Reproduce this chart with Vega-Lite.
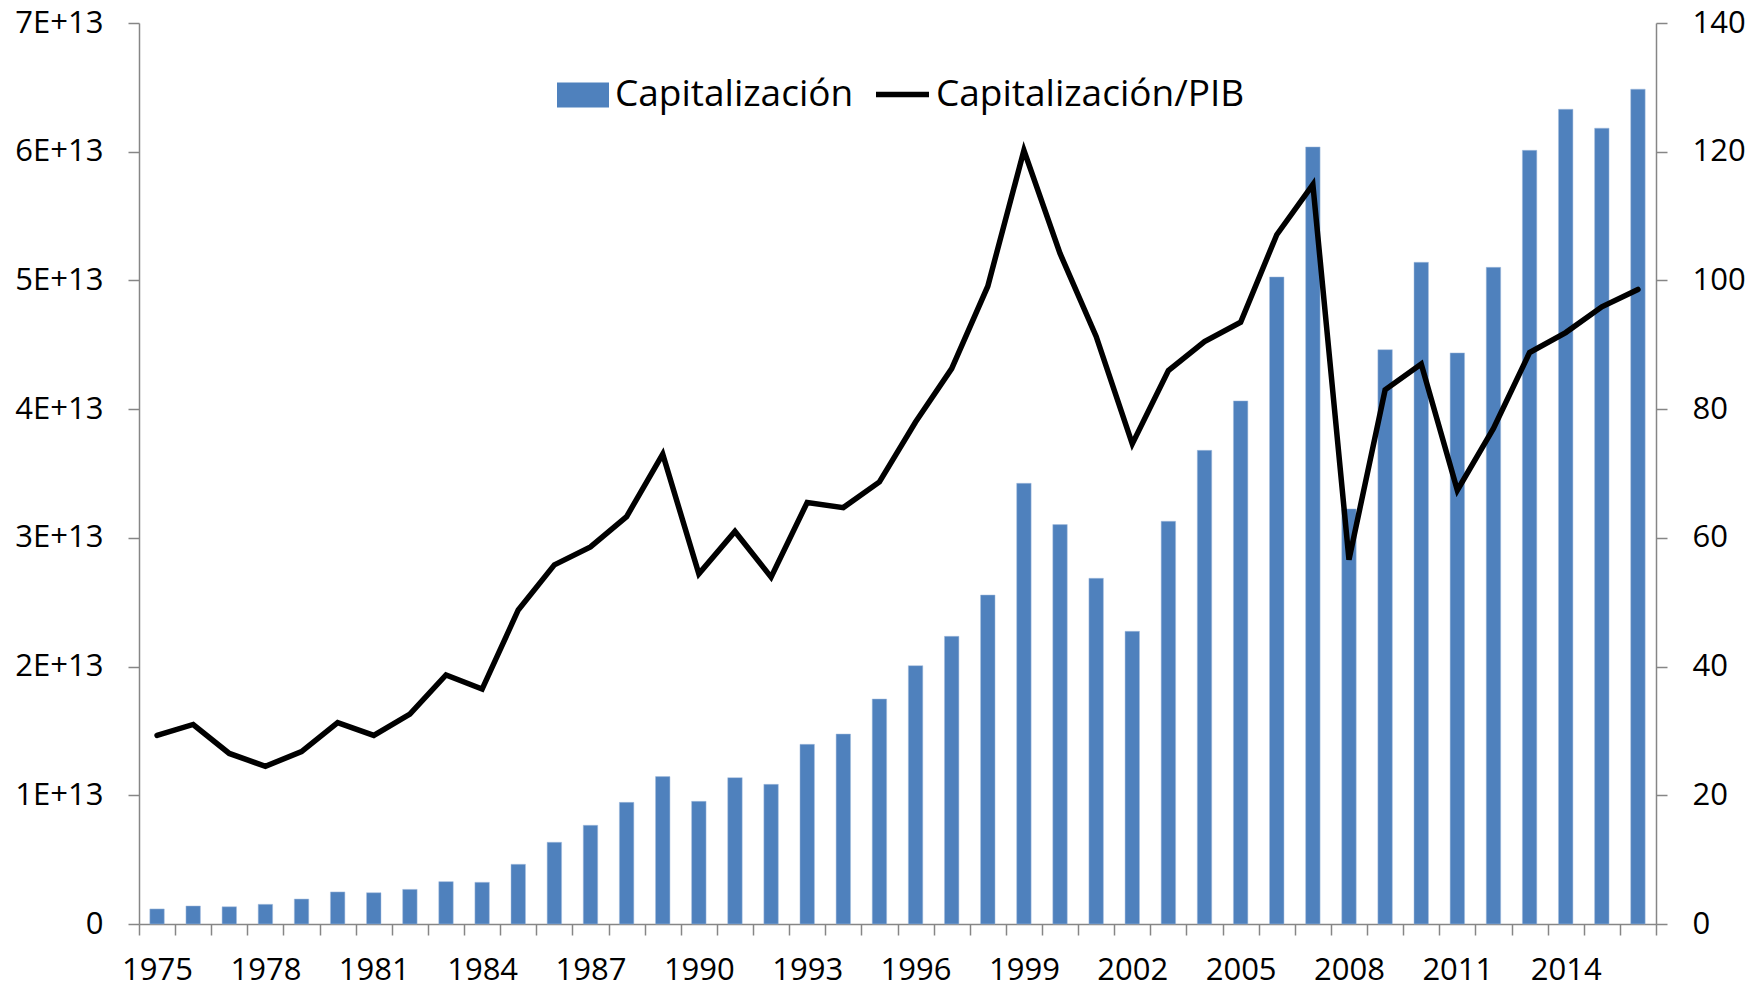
{
  "$schema": "https://vega.github.io/schema/vega-lite/v6.json",
  "width": 1517,
  "height": 901,
  "autosize": "none",
  "padding": {"left": 139, "top": 23, "right": 107, "bottom": 63},
  "background": "white",
  "config": {
    "view": {"stroke": null},
    "font": "Open Sans",
    "axis": {
      "grid": false,
      "domainColor": "#868686",
      "tickColor": "#868686",
      "domainWidth": 1.5,
      "tickWidth": 1.5,
      "tickSize": 11,
      "labelFont": "Open Sans",
      "labelFontSize": 31,
      "labelColor": "black",
      "titleColor": "black"
    }
  },
  "data": {
    "values": [
      {"year": 1975, "cap": 1.17e12, "ratio": 29.3},
      {"year": 1976, "cap": 1.40e12, "ratio": 31.0},
      {"year": 1977, "cap": 1.34e12, "ratio": 26.5},
      {"year": 1978, "cap": 1.53e12, "ratio": 24.5},
      {"year": 1979, "cap": 1.94e12, "ratio": 26.8},
      {"year": 1980, "cap": 2.49e12, "ratio": 31.3},
      {"year": 1981, "cap": 2.43e12, "ratio": 29.3},
      {"year": 1982, "cap": 2.69e12, "ratio": 32.6},
      {"year": 1983, "cap": 3.29e12, "ratio": 38.7},
      {"year": 1984, "cap": 3.24e12, "ratio": 36.5},
      {"year": 1985, "cap": 4.64e12, "ratio": 48.8},
      {"year": 1986, "cap": 6.35e12, "ratio": 55.8},
      {"year": 1987, "cap": 7.67e12, "ratio": 58.6},
      {"year": 1988, "cap": 9.45e12, "ratio": 63.3},
      {"year": 1989, "cap": 1.145e13, "ratio": 73.0},
      {"year": 1990, "cap": 9.53e12, "ratio": 54.4},
      {"year": 1991, "cap": 1.137e13, "ratio": 61.0},
      {"year": 1992, "cap": 1.085e13, "ratio": 53.9},
      {"year": 1993, "cap": 1.396e13, "ratio": 65.5},
      {"year": 1994, "cap": 1.476e13, "ratio": 64.7},
      {"year": 1995, "cap": 1.748e13, "ratio": 68.7},
      {"year": 1996, "cap": 2.007e13, "ratio": 78.0},
      {"year": 1997, "cap": 2.235e13, "ratio": 86.3},
      {"year": 1998, "cap": 2.556e13, "ratio": 99.1},
      {"year": 1999, "cap": 3.424e13, "ratio": 120.2},
      {"year": 2000, "cap": 3.103e13, "ratio": 104.2},
      {"year": 2001, "cap": 2.686e13, "ratio": 91.3},
      {"year": 2002, "cap": 2.274e13, "ratio": 74.6},
      {"year": 2003, "cap": 3.129e13, "ratio": 86.0},
      {"year": 2004, "cap": 3.68e13, "ratio": 90.5},
      {"year": 2005, "cap": 4.064e13, "ratio": 93.5},
      {"year": 2006, "cap": 5.027e13, "ratio": 107.1},
      {"year": 2007, "cap": 6.037e13, "ratio": 114.9},
      {"year": 2008, "cap": 3.225e13, "ratio": 56.6},
      {"year": 2009, "cap": 4.462e13, "ratio": 83.0},
      {"year": 2010, "cap": 5.141e13, "ratio": 87.0},
      {"year": 2011, "cap": 4.437e13, "ratio": 67.4},
      {"year": 2012, "cap": 5.102e13, "ratio": 77.0},
      {"year": 2013, "cap": 6.011e13, "ratio": 88.8},
      {"year": 2014, "cap": 6.33e13, "ratio": 91.9},
      {"year": 2015, "cap": 6.183e13, "ratio": 95.9},
      {"year": 2016, "cap": 6.486e13, "ratio": 98.6}
    ]
  },
  "encoding": {
    "x": {
      "field": "year",
      "type": "ordinal",
      "scale": {"paddingInner": 0, "paddingOuter": 0},
      "axis": {
        "title": null,
        "labelAngle": 0,
        "tickBand": "extent",
        "labelPadding": 20,
        "labelExpr": "(datum.value - 1975) % 3 == 0 ? datum.label : ''"
      }
    }
  },
  "layer": [
    {
      "mark": {"type": "bar", "width": {"band": 0.4}, "stroke": "#A7BFDE", "strokeWidth": 0.5},
      "encoding": {
        "y": {
          "field": "cap",
          "type": "quantitative",
          "scale": {"domain": [0, 7e13], "nice": false},
          "axis": {
            "title": null,
            "orient": "left",
            "values": [0, 1e13, 2e13, 3e13, 4e13, 5e13, 6e13, 7e13],
            "labelExpr": "datum.value == 0 ? '0' : round(datum.value / 1e13) + 'E+13'",
            "labelPadding": 25
          }
        },
        "color": {
          "datum": "Capitalización",
          "scale": {"range": ["#4F81BD"]},
          "legend": {
            "title": null,
            "orient": "none",
            "legendX": 418,
            "legendY": 46,
            "padding": 0,
            "symbolType": "M-1,-0.48H1V0.48H-1Z",
            "symbolSize": 2704,
            "symbolStrokeWidth": 0,
            "labelFont": "Open Sans",
            "labelFontSize": 37,
            "labelColor": "black",
            "labelOffset": 6,
            "labelLimit": 800
          }
        }
      }
    },
    {
      "mark": {"type": "line", "color": "black", "strokeWidth": 5.5, "strokeJoin": "miter", "strokeCap": "round"},
      "encoding": {
        "y": {
          "field": "ratio",
          "type": "quantitative",
          "scale": {"domain": [0, 140], "nice": false},
          "axis": {
            "title": null,
            "orient": "right",
            "values": [0, 20, 40, 60, 80, 100, 120, 140],
            "labelPadding": 25
          }
        },
        "stroke": {
          "datum": "Capitalización/PIB",
          "scale": {"range": ["black"]},
          "legend": {
            "title": null,
            "orient": "none",
            "legendX": 734,
            "legendY": 42,
            "padding": 0,
            "symbolType": "stroke",
            "symbolSize": 2809,
            "symbolStrokeWidth": 5.5,
            "labelFont": "Open Sans",
            "labelFontSize": 37,
            "labelColor": "black",
            "labelOffset": 4,
            "labelLimit": 800
          }
        }
      }
    }
  ],
  "resolve": {"scale": {"y": "independent"}}
}
